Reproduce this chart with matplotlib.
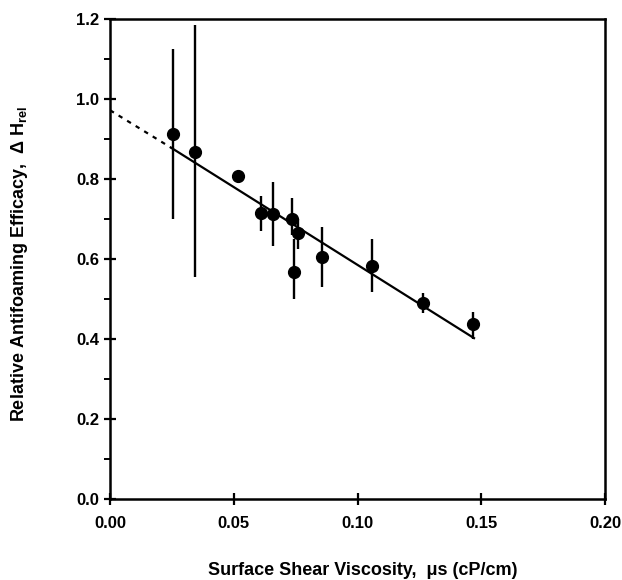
import matplotlib
matplotlib.use("Agg")
import matplotlib.pyplot as plt
from matplotlib.ticker import MultipleLocator

plt.rcParams['font.family'] = ['Liberation Sans', 'DejaVu Sans']
plt.rcParams['font.weight'] = 'bold'
plt.rcParams['mathtext.fontset'] = 'custom'
plt.rcParams['mathtext.rm'] = 'Liberation Sans:bold'
plt.rcParams['mathtext.it'] = 'Liberation Sans:bold'

# measured points
viscosity = [0.0253, 0.0343, 0.0516, 0.0611, 0.0657, 0.0735, 0.0760, 0.0741, 0.0858, 0.1057, 0.1266, 0.1467]
efficacy = [0.912, 0.868, 0.808, 0.714, 0.712, 0.700, 0.664, 0.568, 0.606, 0.582, 0.490, 0.437]
err_low = [0.700, 0.555, 0.808, 0.669, 0.633, 0.660, 0.625, 0.500, 0.531, 0.517, 0.465, 0.400]
err_high = [1.125, 1.186, 0.808, 0.758, 0.792, 0.753, 0.700, 0.650, 0.679, 0.650, 0.515, 0.468]

# fitted line (solid over data range, dashed extrapolation to zero)
fit_x = [0.025, 0.147]
fit_y = [0.877, 0.402]
extrap_x = [0.0, 0.025]
extrap_y = [0.972, 0.877]

yerr = [[e - lo for e, lo in zip(efficacy, err_low)],
        [hi - e for e, hi in zip(efficacy, err_high)]]

fig = plt.figure(figsize=(6.22, 5.80), dpi=100)
ax = fig.add_axes([0.177, 0.140, 0.796, 0.827])

ax.plot(fit_x, fit_y, color='black', lw=1.6)
ax.plot(extrap_x, extrap_y, color='black', lw=1.6, ls=(0, (2, 2.5)))
ax.errorbar(viscosity, efficacy, yerr=yerr, fmt='o', color='black',
            ms=8.5, elinewidth=1.7, capsize=0)

ax.set_xlim(0, 0.20)
ax.set_ylim(0, 1.2)
ax.xaxis.set_major_locator(MultipleLocator(0.05))
ax.yaxis.set_major_locator(MultipleLocator(0.2))
ax.yaxis.set_minor_locator(MultipleLocator(0.1))
ax.xaxis.set_major_formatter(plt.FormatStrFormatter('%.2f'))
ax.yaxis.set_major_formatter(plt.FormatStrFormatter('%.1f'))

for s in ax.spines.values():
    s.set_linewidth(1.8)
ax.tick_params(axis='x', direction='inout', length=9, width=1.6, labelsize=12, pad=8)
ax.tick_params(axis='y', which='major', direction='inout', length=8, width=1.6, labelsize=12, pad=4)
ax.tick_params(axis='y', which='minor', direction='out', length=4, width=1.4)

ax.set_xlabel('Surface Shear Viscosity,  \u03bcs (cP/cm)', fontsize=13, fontweight='bold', va='center')
ax.xaxis.set_label_coords(0.51, -0.15)
ax.set_ylabel('Relative Antifoaming Efficacy,  \u0394 H$_{\\mathrm{rel}}$', fontsize=13,
              fontweight='bold', va='center')
ax.yaxis.set_label_coords(-0.182, 0.49)

fig.savefig('out.png', dpi=100)
